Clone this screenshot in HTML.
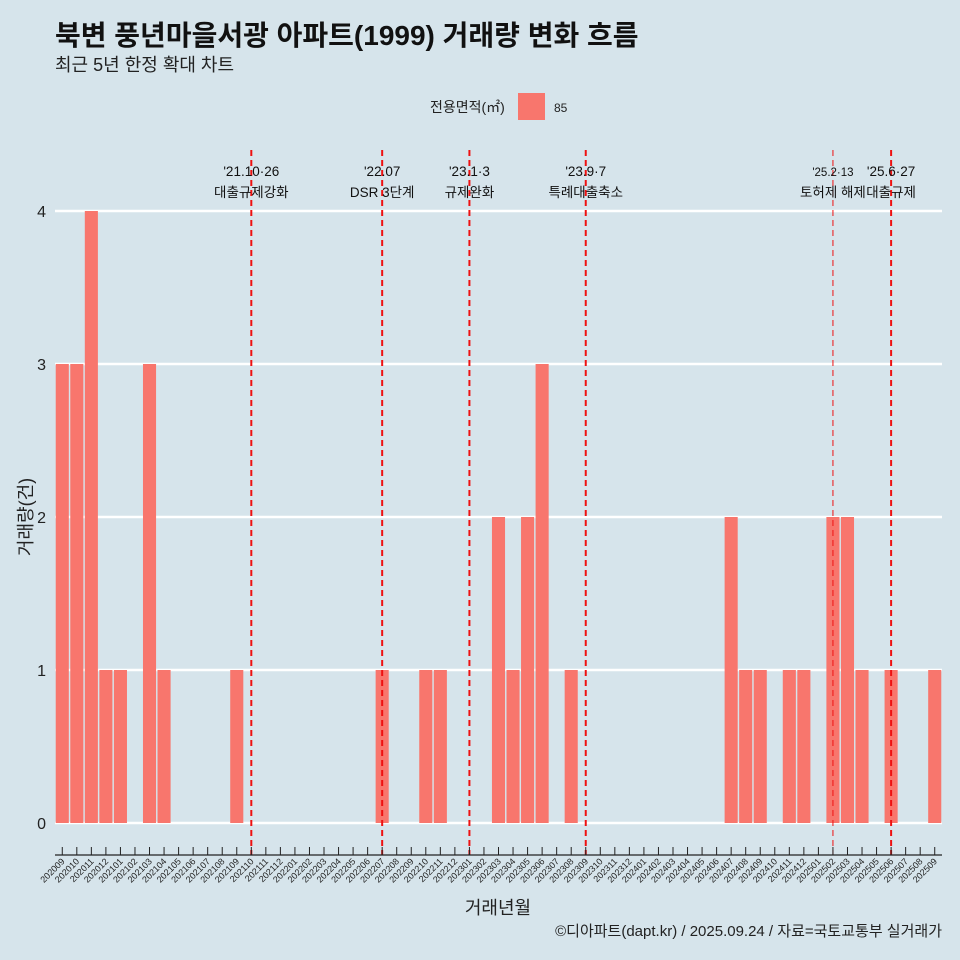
<!DOCTYPE html>
<html><head><meta charset="utf-8"><style>
body{margin:0;background:#d6e4eb;}
svg{display:block;font-family:"Liberation Sans","Noto Sans CJK KR",sans-serif;}
</style></head><body>
<svg id="c" width="960" height="960" viewBox="0 0 960 960">
<rect width="960" height="960" fill="#d6e4eb"/>
<text x="55" y="45" font-size="28" font-weight="bold" fill="#111">북변 풍년마을서광 아파트(1999) 거래량 변화 흐름</text>
<text x="55" y="71" font-size="18" fill="#222">최근 5년 한정 확대 차트</text>
<g>
<text x="430" y="112" font-size="14" fill="#222">전용면적(㎡)</text>
<rect x="518" y="93" width="27" height="27" fill="#f8766d"/>
<text x="554" y="112" font-size="12" fill="#222">85</text>
</g>
<g id="grid"></g><g id="bars"></g><g id="events"></g><g id="axis"></g>
<text x="32" y="517" font-size="18" fill="#222" text-anchor="middle" transform="rotate(-90 32 517)">거래량(건)</text>
<text x="498" y="914" font-size="18" fill="#222" text-anchor="middle">거래년월</text>
<text x="942" y="936" font-size="15" fill="#222" text-anchor="end">©디아파트(dapt.kr) / 2025.09.24 / 자료=국토교통부 실거래가</text>
</svg>
<script>
const categories=[];for(let y=2020,m=9;y*100+m<=202509;){categories.push(String(y*100+m));m++;if(m>12){m=1;y++;}}
const values={"202009":3,"202010":3,"202011":4,"202012":1,"202101":1,"202103":3,"202104":1,"202109":1,"202207":1,"202210":1,"202211":1,"202303":2,"202304":1,"202305":2,"202306":3,"202308":1,"202407":2,"202408":1,"202409":1,"202411":1,"202412":1,"202502":2,"202503":2,"202504":1,"202506":1,"202509":1};
const yTicks=[0,1,2,3,4];
const eventMonths=["202110","202207","202301","202309","202502","202506"];
const eventDates=["'21.10·26","'22.07","'23.1·3","'23.9·7","'25.2·13","'25.6·27"];
const eventNames=["대출규제강화","DSR 3단계","규제완화","특례대출축소","토허제 해제","대출규제"];
const NS="http://www.w3.org/2000/svg";
const x0=55,x1=942,bw=(x1-x0)/categories.length;
const xc=c=>x0+bw*(categories.indexOf(c)+0.5);
const yv=v=>823-153*v;
function mk(t,a,p){const e=document.createElementNS(NS,t);for(const k in a)e.setAttribute(k,a[k]);p.appendChild(e);return e;}
const G=id=>document.getElementById(id);
yTicks.forEach(t=>{
 const l=mk('line',{x1:x0,x2:x1,y1:yv(t),y2:yv(t),stroke:'#fff','stroke-width':2.5},G('grid'));
 
 
 const tx=mk('text',{x:46,y:yv(t)+6,'font-size':16,'text-anchor':'end',fill:'#222'},G('axis'));tx.textContent=t;
 
 
});
categories.forEach(c=>{
 const v=values[c]||0;
 if(v>0){const r=mk('rect',{x:xc(c)-bw*0.45,width:bw*0.9,y:yv(v),height:yv(0)-yv(v),fill:'#f8766d'},G('bars'));
 
 }
 const tk=mk('line',{x1:xc(c),x2:xc(c),y1:847,y2:855,stroke:'#222','stroke-width':1},G('axis'));
 
 
 const tl=mk('text',{x:xc(c)+3,y:862,'font-size':9,'text-anchor':'end',fill:'#222',transform:`rotate(-45 ${xc(c)+3} 862)`},G('axis'));tl.textContent=c;
 
 
});
const ax=mk('line',{x1:x0,x2:x1,y1:855,y2:855,stroke:'#222','stroke-width':1.2},G('axis'));


eventMonths.forEach((m,i)=>{
 const x=xc(m),thin=m==="202502";
 const l=mk('line',{x1:x,x2:x,y1:150,y2:855,stroke:'#ee1111','stroke-width':thin?1:2,'stroke-dasharray':'6,4'},G('events'));
 
 
 const d=mk('text',{x:x,y:176,'font-size':thin?11.5:13.5,'text-anchor':'middle',fill:'#111'},G('events'));d.textContent=eventDates[i];
 
 
 const n=mk('text',{x:x,y:197,'font-size':13.5,'text-anchor':'middle',fill:'#111'},G('events'));n.textContent=eventNames[i];
 
 
});
</script>
</body></html>
